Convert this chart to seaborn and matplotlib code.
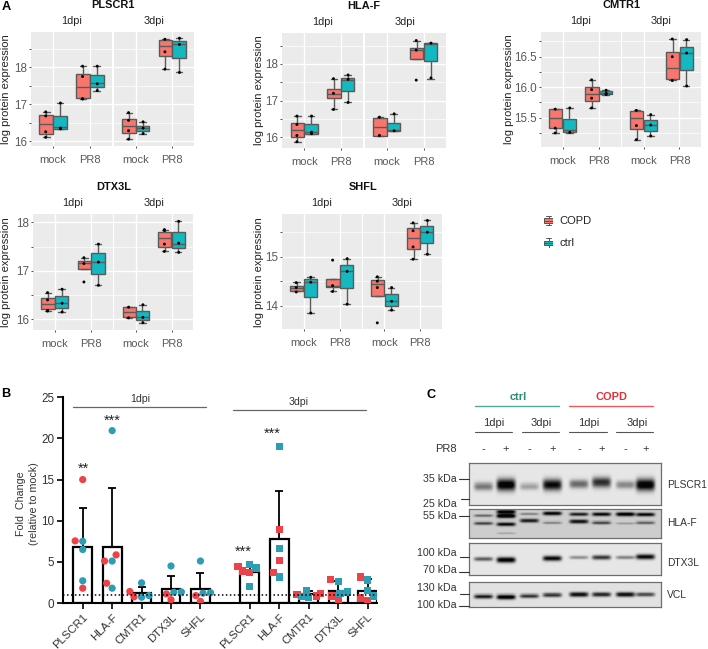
import numpy as np
import pandas as pd
import seaborn as sns
import matplotlib.pyplot as plt
from matplotlib.ticker import MultipleLocator

W, H = 708, 649

DPI_LEVELS = ['1dpi', '3dpi']
INFECTION = ['mock', 'PR8']
GROUPS = ['COPD', 'ctrl']
GROUP_COLORS = {'COPD': '#F8766D', 'ctrl': '#14B8C0'}

# each box: low whisker, q1, median, q3, high whisker
# order: 1dpi mock COPD/ctrl, 1dpi PR8 COPD/ctrl, 3dpi mock COPD/ctrl, 3dpi PR8 COPD/ctrl
PLSCR1_BOX = [[16.10, 16.19, 16.46, 16.70, 16.79], [16.33, 16.33, 16.37, 16.68, 17.03],
              [17.15, 17.16, 17.46, 17.82, 18.03], [17.37, 17.46, 17.57, 17.78, 18.03],
              [16.05, 16.22, 16.42, 16.60, 16.77], [16.20, 16.27, 16.35, 16.42, 16.52],
              [17.95, 18.31, 18.58, 18.75, 18.76], [17.86, 18.25, 18.63, 18.71, 18.79]]
PLSCR1_PTS = [[16.79, 16.68, 16.25, 16.10], [17.03, 16.35, 16.33],
              [18.03, 17.75, 17.15, 17.14], [18.03, 17.55, 17.37],
              [16.77, 16.56, 16.28, 16.05], [16.52, 16.35, 16.20],
              [18.76, 18.42, 17.95], [18.79, 18.62, 17.86]]

HLAF_BOX = [[15.88, 16.02, 16.20, 16.40, 16.58], [16.09, 16.09, 16.15, 16.35, 16.58],
            [16.76, 17.06, 17.18, 17.31, 17.60], [16.95, 17.25, 17.56, 17.63, 17.70],
            [16.04, 16.04, 16.27, 16.52, 16.55], [16.17, 16.17, 16.20, 16.40, 16.64],
            [18.15, 18.15, 18.38, 18.45, 18.64], [17.60, 18.09, 18.55, 18.56, 18.57]]
HLAF_PTS = [[16.58, 16.35, 16.05, 15.88], [16.58, 16.14, 16.10],
            [17.60, 17.20, 16.76], [17.70, 17.58, 16.95],
            [16.55, 16.05], [16.64, 16.18],
            [18.64, 18.38, 17.56], [18.57, 17.62]]

CMTR1_BOX = [[15.25, 15.33, 15.49, 15.64, 15.64], [15.25, 15.27, 15.30, 15.48, 15.66],
             [15.66, 15.78, 15.89, 16.00, 16.12], [15.87, 15.89, 15.91, 15.94, 15.96],
             [15.14, 15.31, 15.49, 15.61, 15.62], [15.20, 15.29, 15.38, 15.46, 15.55],
             [16.12, 16.13, 16.32, 16.57, 16.79], [16.02, 16.28, 16.56, 16.66, 16.78]]
CMTR1_PTS = [[15.64, 15.33, 15.25], [15.66, 15.26],
             [16.12, 15.96, 15.82, 15.66], [15.95, 15.90, 15.88],
             [15.62, 15.37, 15.14], [15.55, 15.38, 15.20],
             [16.79, 16.50, 16.11], [16.78, 16.56, 16.02]]

DTX3L_BOX = [[16.18, 16.21, 16.32, 16.44, 16.55], [16.15, 16.23, 16.33, 16.48, 16.62],
             [17.03, 17.03, 17.16, 17.21, 17.27], [16.70, 16.94, 17.19, 17.36, 17.55],
             [16.03, 16.04, 16.15, 16.25, 16.25], [15.93, 15.98, 16.04, 16.17, 16.30],
             [17.40, 17.49, 17.67, 17.81, 17.85], [17.38, 17.47, 17.56, 17.79, 18.02]]
DTX3L_PTS = [[16.55, 16.40, 16.18, 16.17], [16.62, 16.33, 16.15],
             [17.27, 17.15, 16.77], [17.55, 17.18, 16.70],
             [16.25, 16.03], [16.30, 16.04, 15.93],
             [17.85, 17.83, 17.55, 17.40], [18.02, 17.57, 17.38]]

SHFL_BOX = [[14.29, 14.30, 14.36, 14.41, 14.48], [13.86, 14.17, 14.49, 14.54, 14.59],
            [14.29, 14.39, 14.41, 14.55, 14.55], [14.03, 14.37, 14.71, 14.83, 14.96],
            [14.20, 14.20, 14.44, 14.53, 14.59], [13.91, 14.00, 14.10, 14.23, 14.37],
            [14.95, 15.15, 15.38, 15.58, 15.69], [15.05, 15.27, 15.50, 15.62, 15.74]]
SHFL_PTS = [[14.47, 14.37, 14.28], [14.58, 14.48, 13.85],
            [14.93, 14.41, 14.29], [14.96, 14.70, 14.03],
            [14.59, 14.50, 14.37, 13.65], [14.37, 14.09, 13.91],
            [15.69, 15.53, 15.20, 14.95], [15.74, 15.50, 15.05]]

# fold change panel
GENES_B = ['PLSCR1', 'HLA-F', 'CMTR1', 'DTX3L', 'SHFL']
MEAN_1DPI = [6.8, 6.85, 1.2, 1.7, 1.65]
MEAN_3DPI = [3.75, 7.75, 1.1, 1.5, 1.5]
UPPER_1DPI = [11.6, 14.0, 2.0, 3.3, 3.65]
UPPER_3DPI = [4.4, 13.65, 1.5, 2.7, 2.9]
RED_1DPI = [[15.0, 7.55, 1.8], [5.85, 5.1, 2.4], [1.4, 0.75], [1.1, 0.4], [0.9, 0.2]]
TEAL_1DPI = [[7.5, 6.5, 2.7], [20.95, 5.1, 1.8], [2.45, 0.9, 0.7], [4.5, 1.35, 1.3], [5.1, 1.25, 1.2]]
RED_3DPI = [[4.4, 3.9, 3.75], [8.9, 5.2, 3.75], [1.15, 1.05, 0.85], [2.85, 0.85, 0.35], [3.15, 0.6, 0.3]]
TEAL_3DPI = [[4.65, 4.25, 2.05], [19.0, 6.65, 3.15], [1.55, 0.75, 0.7], [2.65, 1.35, 1.2], [2.8, 1.55, 0.85]]

# western blot: per row, per lane a list of (height in blot 0-1, intensity)
LANES = [250, 318, 388, 457, 537, 605, 677, 737]
BLOT_PLSCR1 = [[(.56, .45)], [(.52, 1.0)], [(.56, .28)], [(.52, .9)],
               [(.50, .5)], [(.46, .75)], [(.52, .38)], [(.52, 1.0)]]
BLOT_HLAF = [[(.22, .4), (.48, .55)], [(.08, .9), (.23, 1.0), (.51, .8), (.83, .15)],
             [(.16, .3), (.39, .7)], [(.14, .85), (.46, .3)],
             [(.17, .7), (.42, .75)], [(.17, .8), (.46, .55)],
             [(.17, .9), (.48, .2)], [(.18, .8), (.46, .45)]]
BLOT_DTX3L = [[(.50, .55)], [(.53, 1.0)], [], [(.48, .9)],
              [(.45, .35)], [(.45, .7)], [(.45, .4)], [(.43, .9)]]
BLOT_VCL = [[(.58, .8)], [(.60, 1.0)], [(.56, .7)], [(.52, .7)],
            [(.50, .85)], [(.50, .75)], [(.50, .85)], [(.50, .6)]]

LEGEND_KEY = [0, 1, 2, 3, 4]

sns.set_theme(style='darkgrid', rc={'axes.facecolor': '#EBEBEB', 'grid.color': 'white'})
plt.rcParams['font.family'] = ['Liberation Sans', 'DejaVu Sans']

fig = plt.figure(figsize=(W / 100, H / 100), dpi=100)
fig.patch.set_facecolor('white')


def px_axes(x0, y0, x1, y1):
    return fig.add_axes([x0 / W, 1 - y1 / H, (x1 - x0) / W, (y1 - y0) / H])


ann = px_axes(0, 0, W, H)
ann.set_xlim(0, W)
ann.set_ylim(H, 0)
ann.axis('off')
ann.set_zorder(10)
ann.patch.set_alpha(0)


def long_tables(box_rows, pts_rows):
    box_recs, pt_recs = [], []
    i = 0
    for dpi in DPI_LEVELS:
        for inf in INFECTION:
            for grp in GROUPS:
                for v in box_rows[i]:
                    box_recs.append((dpi, inf, grp, v))
                for v in pts_rows[i]:
                    pt_recs.append((dpi, inf, grp, v))
                i += 1
    cols = ['dpi', 'infection', 'group', 'value']
    return pd.DataFrame(box_recs, columns=cols), pd.DataFrame(pt_recs, columns=cols)


def gene_panel(name, box_rows, pts_rows, panels, y_top, y_bot, tick_a, tick_b, major, label_x):
    box_df, pts_df = long_tables(box_rows, pts_rows)
    (v1, p1), (v2, p2) = tick_a, tick_b
    per_px = (v1 - v2) / (p2 - p1)
    ylim = (v1 - (y_bot - p1) * per_px, v1 + (p1 - y_top) * per_px)
    for k, dpi in enumerate(DPI_LEVELS):
        x0, x1 = panels[k]
        ax = px_axes(x0, y_top, x1, y_bot)
        sns.boxplot(data=box_df[box_df.dpi == dpi], x='infection', y='value', hue='group',
                    order=INFECTION, hue_order=GROUPS, palette=GROUP_COLORS, whis=(0, 100),
                    width=.75, gap=.03, linewidth=1.0, linecolor='#5A5A5A', saturation=1,
                    fliersize=0, legend=False, ax=ax)
        sns.stripplot(data=pts_df[pts_df.dpi == dpi], x='infection', y='value', hue='group',
                      order=INFECTION, hue_order=GROUPS, palette=['black', 'black'], dodge=True,
                      jitter=False, size=2.1, linewidth=0, legend=False, ax=ax)
        ax.set_xlim(-.6, 1.6)
        ax.set_ylim(*ylim)
        ax.set_xlabel('')
        ax.set_ylabel('')
        ax.yaxis.set_major_locator(MultipleLocator(major))
        ax.yaxis.set_minor_locator(MultipleLocator(major / 2))
        ax.grid(True, which='major', color='white', lw=1.0)
        ax.grid(True, which='minor', axis='y', color='white', lw=.5)
        ax.set_axisbelow(True)
        for s in ax.spines.values():
            s.set_visible(False)
        ax.tick_params(axis='x', length=1.5, width=.6, color='#333333', bottom=True,
                       labelsize=8, labelcolor='#5A5A5A', pad=5)
        ax.tick_params(axis='y', which='both', length=1.2, width=.6, color='#333333', left=k == 0,
                       labelleft=k == 0, labelsize=8.4, labelcolor='#5A5A5A', pad=1.5)
        if major == .5:
            ax.yaxis.set_major_formatter('{x:.1f}')
        ann.text((x0 + x1) / 2, y_top - 11, dpi, ha='center', va='center', fontsize=7.8, color='#222222')
    ann.text(panels[0][1] + 1, y_top - 27, name, ha='center', va='center', fontsize=7.9,
             fontweight='bold', color='#111111')
    ann.text(label_x, (y_top + y_bot) / 2, 'log protein expression', rotation=90, ha='center',
             va='center', fontsize=8, color='#222222')


gene_panel('PLSCR1', PLSCR1_BOX, PLSCR1_PTS, [(31, 112), (114, 194)], 32, 146, (18, 67.3), (16, 141), 1, 6)
gene_panel('HLA-F', HLAF_BOX, HLAF_PTS, [(282.3, 362.7), (364.7, 445.7)], 33, 148, (18, 64), (16, 137.3), 1, 259)
gene_panel('CMTR1', CMTR1_BOX, CMTR1_PTS, [(540.7, 620.7), (622, 701)], 32, 146.7, (16.5, 56.7), (15.5, 117.7), .5, 509)
gene_panel('DTX3L', DTX3L_BOX, DTX3L_PTS, [(33, 113), (114.3, 193)], 214.3, 329.7, (18, 222.3), (16, 319.3), 1, 6)
gene_panel('SHFL', SHFL_BOX, SHFL_PTS, [(281.7, 361.7), (363, 441.7)], 214.3, 329, (15, 256.7), (14, 305.7), 1, 259)

# legend keys, little upright boxes
for grp, key_y in zip(GROUPS, [220.7, 243]):
    key_ax = px_axes(544, key_y - 5, 553, key_y + 5)
    sns.boxplot(y=LEGEND_KEY, color=GROUP_COLORS[grp], whis=(0, 100), width=.95, linewidth=.7,
                linecolor='#555555', saturation=1, fliersize=0, ax=key_ax)
    key_ax.axis('off')
ann.text(559, 220.5, 'COPD', ha='left', va='center', fontsize=8, color='#222222')
ann.text(559, 243, 'ctrl', ha='left', va='center', fontsize=8, color='#222222')

# panel B
ax_b = px_axes(63.3, 397.3, 376.7, 603)
slots = list(range(5)) + [5.68 + i for i in range(5)]
bar_df = pd.DataFrame({'slot': slots, 'mean': MEAN_1DPI + MEAN_3DPI, 'upper': UPPER_1DPI + UPPER_3DPI})
sns.barplot(data=bar_df, x='slot', y='mean', native_scale=True, fill=False, color='black',
            width=.64, linewidth=1.6, errorbar=None, ax=ax_b)
for p in ax_b.patches:
    p.set_edgecolor('black')
ax_b.errorbar(bar_df['slot'], bar_df['mean'], yerr=[np.zeros(10), bar_df['upper'] - bar_df['mean']],
              fmt='none', ecolor='black', elinewidth=1.3, capsize=3.2, capthick=1.3, zorder=3)


def dots(red_rows, teal_rows, xs, marker, ax):
    recs = []
    for x, reds, teals in zip(xs, red_rows, teal_rows):
        recs += [(x, v, 'red') for v in reds] + [(x, v, 'teal') for v in teals]
    df = pd.DataFrame(recs, columns=['slot', 'value', 'donor'])
    sns.swarmplot(data=df, x='slot', y='value', hue='donor', native_scale=True, marker=marker,
                  palette={'red': '#EE4248', 'teal': '#2C9DB3'}, size=5.2, linewidth=0, legend=False,
                  zorder=4, warn_thresh=1, ax=ax)


dots(RED_1DPI, TEAL_1DPI, slots[:5], 'o', ax_b)
dots(RED_3DPI, TEAL_3DPI, slots[5:], 's', ax_b)
ax_b.axhline(1, color='black', ls=(0, (1, 1.6)), lw=1.1, zorder=5)
ax_b.set_xlim(-.66, 9.99)
ax_b.set_ylim(0, 25)
ax_b.set_facecolor('white')
ax_b.grid(False)
ax_b.set_xlabel('')
ax_b.set_ylabel('')
ax_b.set_xticks(slots)
ax_b.set_xticklabels(GENES_B + GENES_B, rotation=45, ha='right', rotation_mode='anchor')
ax_b.set_yticks([0, 5, 10, 15, 20, 25])
ax_b.tick_params(axis='both', length=4.5, width=1.2, color='black', left=True, bottom=True,
                 labelsize=8.2, labelcolor='#333333', pad=2)
ax_b.tick_params(axis='y', labelsize=8.4)
sns.despine(ax=ax_b)
for s in ['left', 'bottom']:
    ax_b.spines[s].set_color('black')
    ax_b.spines[s].set_linewidth(1.5)

ann.plot([72.7, 205.7], [407.3, 407.3], color='#666666', lw=.9)
ann.plot([233.3, 366], [410, 410], color='#666666', lw=.9)
ann.text(140, 399.5, '1dpi', ha='center', va='center', fontsize=7.6, color='#333333')
ann.text(299, 402, '3dpi', ha='center', va='center', fontsize=7.6, color='#333333')
for sx, sy, s in [(83.5, 468.5, '**'), (112, 420.5, '***'), (243, 552, '***'), (272, 434, '***')]:
    ann.text(sx, sy, s, ha='center', va='center', fontsize=10.5, color='#222222')
ann.text(21, 504, 'Fold  Change', rotation=90, ha='center', va='center', fontsize=7.7, color='#333333')
ann.text(34, 504, '(relative to mock)', rotation=90, ha='center', va='center', fontsize=7.7, color='#333333')

# panel letters
ann.text(1.5, 7, 'A', fontsize=9.2, fontweight='bold', va='center', color='black')
ann.text(1.5, 394, 'B', fontsize=9.2, fontweight='bold', va='center', color='black')
ann.text(426.5, 395, 'C', fontsize=9.2, fontweight='bold', va='center', color='black')


# panel C
def blot(lanes, x0, y0, x1, y1, thick, bg):
    nx, ny = 192 * 2, int((y1 - y0) * 2)
    xx, yy = np.meshgrid(np.linspace(0, 1, nx), np.linspace(0, 1, ny))
    img = np.full((ny, nx), bg)
    for zoom_x, bands in zip(LANES, lanes):
        cx = (zoom_x / 3 + 400 - x0) / (x1 - x0)
        half_w = 9.5 / (x1 - x0)
        for h, level in bands:
            span = thick * (.55 + .75 * level) / (y1 - y0)
            mask_x = np.exp(-((xx - cx) / half_w) ** 6)
            mask_y = np.exp(-((yy - h) / span) ** 2)
            img = img + level * mask_x * mask_y
    ax = px_axes(x0, y0, x1, y1)
    sns.heatmap(np.clip(img, 0, 1), cmap='gray_r', vmin=0, vmax=1.02, cbar=False, xticklabels=False,
                yticklabels=False, rasterized=True, ax=ax)
    for s in ax.spines.values():
        s.set_visible(True)
        s.set_color('#6E6E6E')
        s.set_linewidth(.9)


blot(BLOT_PLSCR1, 469.3, 463.3, 661.3, 504.7, 4.5, .1)
blot(BLOT_HLAF, 469.3, 509.3, 661.3, 538.3, 1.7, .2)
blot(BLOT_DTX3L, 469.3, 543.3, 661.3, 575, 2.2, .1)
blot(BLOT_VCL, 469.3, 582.3, 661.3, 606.7, 1.9, .12)

ann.text(518, 397, 'ctrl', ha='center', va='center', fontsize=7.9, fontweight='bold', color='#2C8C78')
ann.text(612, 397, 'COPD', ha='center', va='center', fontsize=7.9, fontweight='bold', color='#E2303A')
ann.plot([475, 559], [405.7, 405.7], color='#4FA898', lw=1)
ann.plot([569, 652.7], [405.7, 405.7], color='#EC5A60', lw=1)
for cx, x_a, x_b, lab in [(494, 475, 512, '1dpi'), (541.3, 522, 559, '3dpi'),
                          (589, 569.3, 606.7, '1dpi'), (636.7, 616, 652.7, '3dpi')]:
    ann.text(cx, 422.7, lab, ha='center', va='center', fontsize=8, color='#333333')
    ann.plot([x_a, x_b], [432, 432], color='#555555', lw=.8)
ann.text(445.7, 449, 'PR8', ha='center', va='center', fontsize=8, color='#333333')
for i, zoom_x in enumerate(LANES):
    ann.text(zoom_x / 3 + 400, 449, '-+'[i % 2], ha='center', va='center', fontsize=8, color='#333333')
for txt, ty, tick_y, tick_x in [('35 kDa', 479, 479, 459), ('25 kDa', 504, 499, 461), ('55 kDa', 516, 516, 459),
                                ('100 kDa', 552.7, 556.7, 460), ('70 kDa', 570, 571.7, 459),
                                ('130 kDa', 588, 594, 460), ('100 kDa', 605, 605.7, 459)]:
    ann.text(457, ty, txt, ha='right', va='center', fontsize=7.7, color='#333333')
    ann.plot([tick_x, 469.3], [tick_y, tick_y], color='#333333', lw=.8)
for txt, ty in [('PLSCR1', 485), ('HLA-F', 522.7), ('DTX3L', 563), ('VCL', 595)]:
    ann.text(666.7, ty, txt, ha='left', va='center', fontsize=7.4, color='#333333')
ann.set_xlim(0, W)
ann.set_ylim(H, 0)

fig.savefig('out.png', dpi=100)
